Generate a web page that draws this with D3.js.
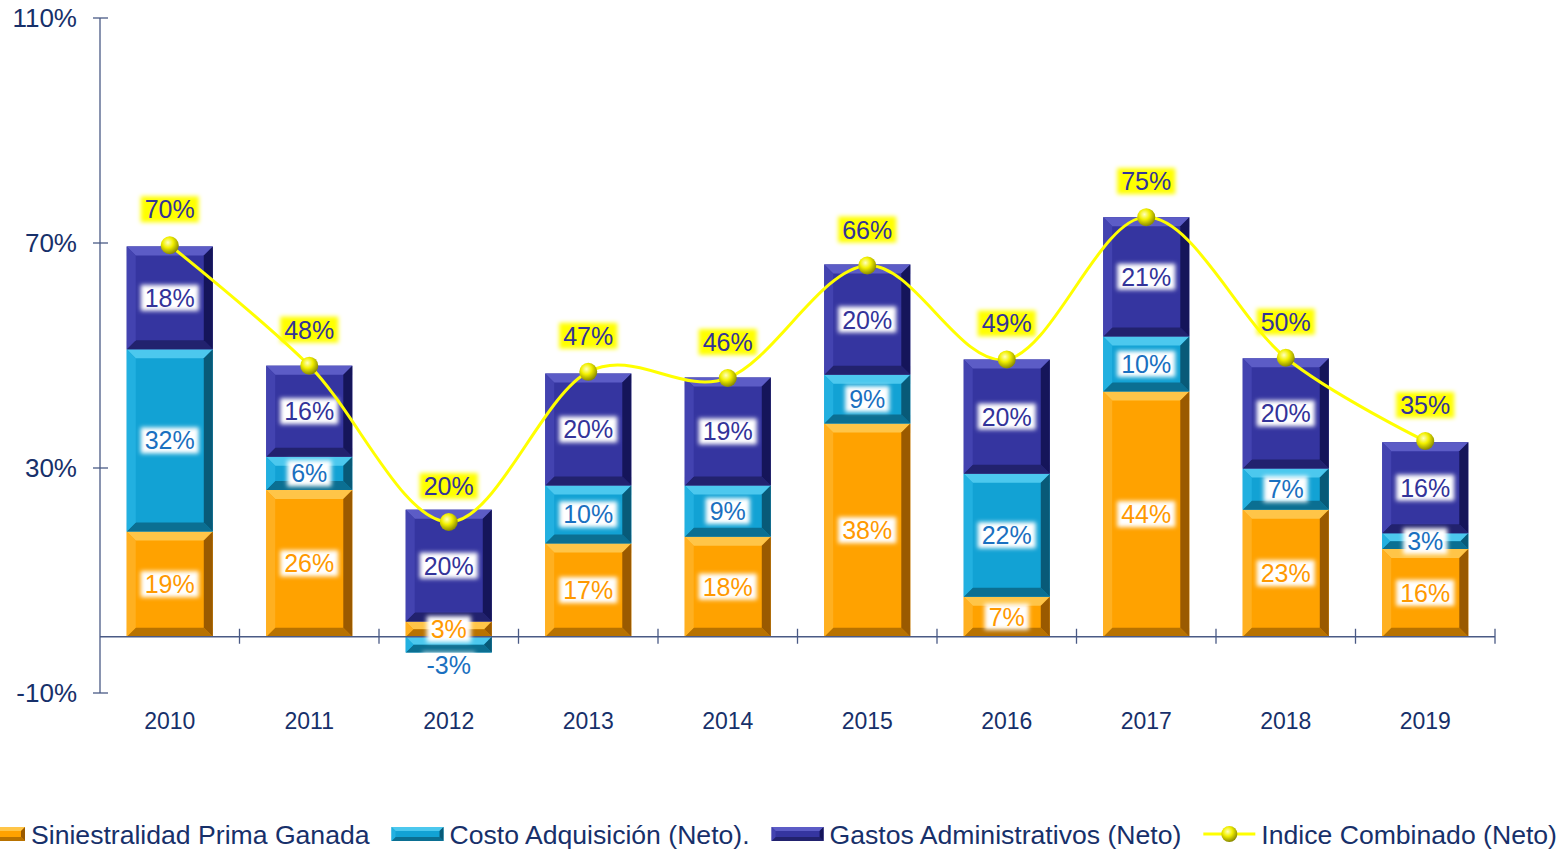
<!DOCTYPE html>
<html><head><meta charset="utf-8">
<script src="https://cdn.jsdelivr.net/npm/d3@7"></script>
<style>body{margin:0;background:#fff}svg{display:block}text{font-family:"Liberation Sans",Arial,sans-serif}</style>
</head><body><svg id="c" width="1568" height="849"></svg>
<script>
const years = ["2010","2011","2012","2013","2014","2015","2016","2017","2018","2019"];
const siniestralidad = [18.7, 26.1, 2.7, 16.6, 17.8, 37.9, 7.1, 43.6, 22.6, 15.6];
const costo = [32.4, 5.9, -2.8, 10.3, 9.1, 8.7, 21.9, 9.8, 7.3, 2.8];
const gastos = [18.3, 16.2, 19.9, 19.9, 19.2, 19.6, 20.3, 21.2, 19.6, 16.2];
const indice = [69.6, 48.2, 20.4, 47.1, 46.0, 66.0, 49.3, 74.6, 49.6, 34.8];
const yTicks = [-10, 30, 70, 110];
const seriesNames = ["Siniestralidad Prima Ganada","Costo Adquisición (Neto).","Gastos Administrativos (Neto)","Indice Combinado (Neto)"];

const svg = d3.select("#c");
const axisCol = "#4a5a85", textCol = "#17306a";
const x = d3.scaleBand().domain(years).range([100,1495]).padding(0);
const y = d3.scaleLinear().domain([-10,110]).range([693,18]);
const barW = x.bandwidth()*0.617;

const pal = [
  {face:"#ffa200", top:"#ffc548", left:"#ffb020", right:"#9a5a00", bot:"#b87200", label:"#ff9900"},
  {face:"#12a2d4", top:"#4cc8ee", left:"#22b0e0", right:"#085a78", bot:"#0b6f92", label:"#1a70c0"},
  {face:"#3535a0", top:"#5c5cc6", left:"#4343b0", right:"#15155a", bot:"#22226e", label:"#333399"}
];

const defs = svg.append("defs");
const fb = defs.append("filter").attr("id","blur").attr("x","-20%").attr("y","-30%").attr("width","140%").attr("height","160%");
fb.append("feGaussianBlur").attr("stdDeviation",2.2);
const rg = defs.append("radialGradient").attr("id","ball").attr("cx","40%").attr("cy","35%").attr("r","65%");
rg.append("stop").attr("offset","0%").attr("stop-color","#ffffc0");
rg.append("stop").attr("offset","45%").attr("stop-color","#f2f000");
rg.append("stop").attr("offset","100%").attr("stop-color","#8a8a00");

function bevel(g, x0, y0, w, h, c, bmax){
  const b = Math.min(bmax, h/2, w/2);
  const x1 = x0+w, y1 = y0+h;
  g.append("rect").attr("x",x0).attr("y",y0).attr("width",w).attr("height",h).attr("fill",c.face);
  if (h < 1) return;
  const poly = (pts, f) => g.append("polygon").attr("points", pts.map(p=>p.join(",")).join(" ")).attr("fill", f);
  poly([[x0,y0],[x1,y0],[x1-b,y0+b],[x0+b,y0+b]], c.top);
  poly([[x0,y1],[x1,y1],[x1-b,y1-b],[x0+b,y1-b]], c.bot);
  poly([[x0,y0],[x0+b,y0+b],[x0+b,y1-b],[x0,y1]], c.left);
  poly([[x1,y0],[x1-b,y0+b],[x1-b,y1-b],[x1,y1]], c.right);
}

// axes
const gy = svg.append("g");
gy.append("line").attr("x1",100).attr("x2",100).attr("y1",y(110)).attr("y2",y(-10)).attr("stroke",axisCol).attr("stroke-width",1.3);
yTicks.forEach(t=>{
  gy.append("line").attr("x1",93).attr("x2",108).attr("y1",y(t)).attr("y2",y(t)).attr("stroke",axisCol).attr("stroke-width",1.3);
  gy.append("text").attr("x",77).attr("y",y(t)).attr("dy","0.36em").attr("text-anchor","end").attr("font-size",26).attr("fill",textCol).text(t+"%");
});

// stacked bars
const keys = ["s","c","g"];
const rows = years.map((yr,i)=>({year:yr, s:siniestralidad[i], c:costo[i], g:gastos[i]}));
const stack = d3.stack().keys(keys).offset(d3.stackOffsetDiverging)(rows);
const gb = svg.append("g");
stack.forEach((ser,si)=>{
  ser.forEach(d=>{
    const y0 = y(Math.max(d[0],d[1])), y1 = y(Math.min(d[0],d[1]));
    const cx = x(d.data.year)+x.bandwidth()/2;
    bevel(gb.append("g"), cx-barW/2, y0, barW, y1-y0, pal[si], 9);
  });
});

// x axis
const gx = svg.append("g");
gx.append("line").attr("x1",100).attr("x2",1495).attr("y1",y(0)).attr("y2",y(0)).attr("stroke",axisCol).attr("stroke-width",1.3);
years.forEach((yr,i)=>{
  const bx = x(yr)+x.bandwidth();
  gx.append("line").attr("x1",bx).attr("x2",bx).attr("y1",y(0)-8).attr("y2",y(0)+7).attr("stroke",axisCol).attr("stroke-width",1.3);
  gx.append("text").attr("x",x(yr)+x.bandwidth()/2).attr("y",721).attr("dy","0.36em").attr("text-anchor","middle").attr("font-size",23).attr("fill",textCol).text(yr);
});

// labels
function label(g, cx, cy, txt, col, bg, fs, opacity){
  const t = g.append("text").attr("x",cx).attr("y",cy).attr("dy","0.36em").attr("text-anchor","middle").attr("font-size",fs).attr("fill",col).text(txt);
  const bb = t.node().getBBox();
  g.insert("rect", function(){return t.node();}).attr("x",bb.x-4).attr("y",bb.y+1).attr("width",bb.width+8).attr("height",bb.height-2)
    .attr("fill",bg).attr("filter","url(#blur)").attr("opacity",opacity);
}
const gl = svg.append("g");
stack.forEach((ser,si)=>{
  const key = keys[si];
  ser.forEach(d=>{
    const v = d.data[key];
    const cx = x(d.data.year)+x.bandwidth()/2;
    let cy = (y(d[0])+y(d[1]))/2;
    if (v < 0) cy = y(Math.min(d[0],d[1])) + 12;
    label(gl.append("g"), cx, cy, Math.round(v) + "%", pal[si].label, "#ffffff", 25, v<0?0.6:1);
  });
});

// line
const pts = years.map((yr,i)=>[x(yr)+x.bandwidth()/2, y(indice[i])]);
svg.append("path").attr("d", d3.line().curve(d3.curveCardinal.tension(0))(pts)).attr("fill","none").attr("stroke","#ffff00").attr("stroke-width",3);
svg.append("g").selectAll("circle").data(pts).join("circle").attr("cx",d=>d[0]).attr("cy",d=>d[1]).attr("r",9).attr("fill","url(#ball)");

// index labels
const gi = svg.append("g");
years.forEach((yr,i)=>{
  label(gi.append("g"), x(yr)+x.bandwidth()/2, y(indice[i])-36, Math.round(indice[i])+"%", "#333399", "#ffff00", 25, 1);
});

// legend
const lg = svg.append("g");
let lx = -27;
const ly = 834;
seriesNames.forEach((nm,i)=>{
  if (i < 3) {
    bevel(lg.append("g"), lx, ly-7, 52, 14, pal[i], 4);
  } else {
    lg.append("line").attr("x1",lx).attr("x2",lx+52).attr("y1",ly).attr("y2",ly).attr("stroke","#ffff00").attr("stroke-width",3);
    lg.append("circle").attr("cx",lx+26).attr("cy",ly).attr("r",8).attr("fill","url(#ball)");
  }
  const t = lg.append("text").attr("x",lx+58).attr("y",ly).attr("dy","0.36em").attr("font-size",26.6).attr("fill",textCol).text(nm);
  lx = lx + 58 + t.node().getComputedTextLength() + 22;
});
</script></body></html>
